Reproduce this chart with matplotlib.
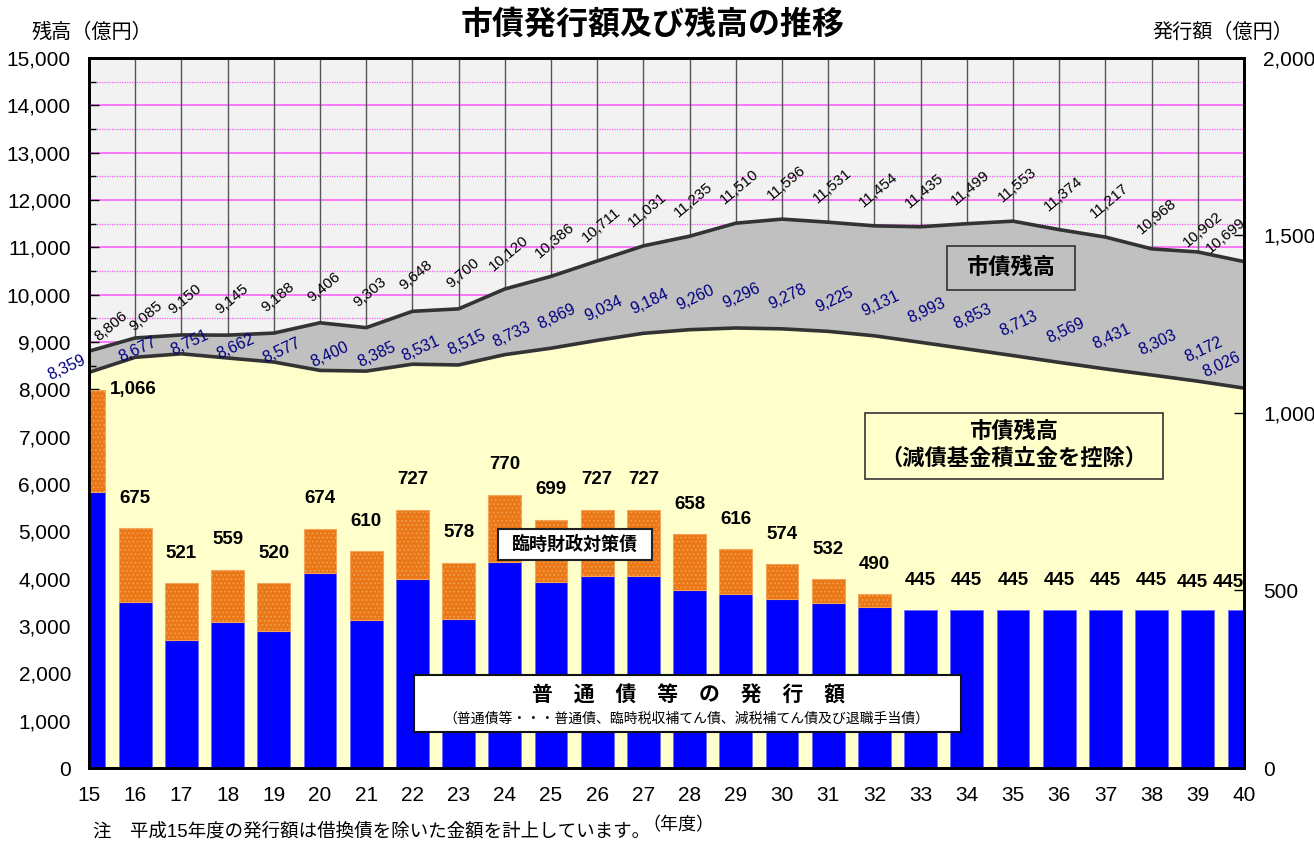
import matplotlib
matplotlib.use('Agg')
import matplotlib.pyplot as plt
import numpy as np
from matplotlib.ticker import MultipleLocator, FuncFormatter
from matplotlib.patches import Rectangle

plt.rcParams['font.family'] = ['Liberation Sans', 'Noto Sans CJK JP', 'DejaVu Sans']
plt.rcParams['hatch.linewidth'] = 0.6

# ---------------- data ----------------
years = list(range(15, 41))
balance_total = [8806, 9085, 9150, 9145, 9188, 9406, 9303, 9648, 9700, 10120,
                 10386, 10711, 11031, 11235, 11510, 11596, 11531, 11454, 11435,
                 11499, 11553, 11374, 11217, 10968, 10902, 10699]
balance_net = [8359, 8677, 8751, 8662, 8577, 8400, 8385, 8531, 8515, 8733,
               8869, 9034, 9184, 9260, 9296, 9278, 9225, 9131, 8993, 8853,
               8713, 8569, 8431, 8303, 8172, 8026]
issue_total = [1066, 675, 521, 559, 520, 674, 610, 727, 578, 770, 699, 727,
               727, 658, 616, 574, 532, 490, 445, 445, 445, 445, 445, 445, 445, 445]
issue_ordinary = [777, 468, 361, 410, 387, 550, 417, 532, 421, 579, 525, 541,
                  541, 502, 489, 477, 466, 454, 445, 445, 445, 445, 445, 445, 445, 445]

# label offsets (pixels) - styling only
total_label_offsets = {15: (22, 25), 16: (11, 22), 38: (5, 32), 39: (5, 23), 40: (-18, 26)}
net_label_offsets = {15: (-22, 5), 16: (2, 8), 17: (8, 11), 18: (8, 11), 19: (8, 11),
                     20: (10, 16), 21: (10, 16), 22: (8, 16), 23: (8, 22), 24: (7, 20),
                     40: (-22, 23)}
bar_label_offsets = {15: (44, 0), 39: (-5, 28), 40: (-16, 28)}

years_a = np.array(years)
ordinary = np.array(issue_ordinary)
rinji = np.array(issue_total) - ordinary

# ---------------- figure ----------------
W, H = 1314, 844
fig = plt.figure(figsize=(W / 100, H / 100), dpi=100)
L, R, T, B = 89, 1244, 58, 768
ax = fig.add_axes([L / W, 1 - B / H, (R - L) / W, (B - T) / H])
ax.set_facecolor('#F2F2F2')
ax.set_xlim(15, 40)
ax.set_ylim(0, 15000)

# grid (only visible above the areas)
for v in range(1000, 15001, 1000):
    ax.axhline(v, color='#FF55FF', lw=1.1, zorder=0.5)
for v in range(500, 15000, 1000):
    ax.axhline(v, color='#FF55FF', lw=0.9, ls=(0, (1, 1)), zorder=0.5)
for x in years:
    ax.axvline(x, color='#555555', lw=1.0, zorder=0.6)

ax.fill_between(years, 0, balance_net, color='#FFFFCC', lw=0, zorder=1)
ax.fill_between(years, balance_net, balance_total, color='#C0C0C0', lw=0, zorder=1)
ax.plot(years, balance_total, color='#333333', lw=2.6, zorder=2)
ax.plot(years, balance_net, color='#333333', lw=2.6, zorder=2)

ax.yaxis.set_major_locator(MultipleLocator(1000))
ax.yaxis.set_minor_locator(MultipleLocator(500))
ax.yaxis.set_major_formatter(FuncFormatter(lambda v, p: f'{int(v):,}'))
ax.xaxis.set_major_locator(MultipleLocator(1))
ax.tick_params(axis='y', which='major', direction='in', length=7, width=1, labelsize=15, pad=13)
ax.tick_params(axis='y', which='minor', direction='in', length=5, width=1)
ax.tick_params(axis='x', which='major', direction='in', length=7, width=1, labelsize=15, pad=13)

for sp in ax.spines.values():
    sp.set_linewidth(2)
    sp.set_color('black')

for x, v in zip(years, balance_total):
    dx, dy = total_label_offsets.get(x, (4, 36))
    ax.annotate(f'{v:,}', (x, v), xytext=(dx, dy), textcoords='offset pixels',
                ha='center', va='center', rotation=40, fontsize=11,
                color='black', zorder=3, annotation_clip=False)
for x, v in zip(years, balance_net):
    dx, dy = net_label_offsets.get(x, (6, 32))
    ax.annotate(f'{v:,}', (x, v), xytext=(dx, dy), textcoords='offset pixels',
                ha='center', va='center', rotation=25, fontsize=11.5,
                color='#000080', zorder=3, annotation_clip=False)

# ---------------- bars on right axis ----------------
ax2 = ax.twinx()
ax2.set_ylim(0, 2000)
ax2.bar(years_a, ordinary, width=0.71, color='#0000FF', edgecolor='#6A6AFF', lw=0.6, zorder=2)
m = rinji > 0
ax2.bar(years_a[m], rinji[m], bottom=ordinary[m], width=0.71, color='#EA7816',
        edgecolor='#F4A458', lw=0.8, hatch='....', zorder=2)
ax2.yaxis.set_major_locator(MultipleLocator(500))
ax2.yaxis.set_major_formatter(FuncFormatter(lambda v, p: f'{int(v):,}'))
ax2.tick_params(axis='y', which='major', direction='in', length=7, width=1, labelsize=15, pad=14)
for sp in ax2.spines.values():
    sp.set_linewidth(2)
    sp.set_color('black')

for x, v in zip(years, issue_total):
    dx, dy = bar_label_offsets.get(x, (0, 30))
    ax2.annotate(f'{v:,}', (x, v), xytext=(dx, dy), textcoords='offset pixels',
                 ha='center', va='center', fontsize=13.5, fontweight='bold',
                 color='black', zorder=4, annotation_clip=False)

# ---------------- boxes ----------------
def px_box(x0, y0, x1, y1, fc, ec='#333333', lw=1.2):
    r = Rectangle(((x0 - L) / (R - L), (B - y1) / (B - T)), (x1 - x0) / (R - L),
                  (y1 - y0) / (B - T), transform=ax2.transAxes, facecolor=fc,
                  edgecolor=ec, lw=lw, zorder=6, clip_on=False)
    ax2.add_patch(r)

def px_text(x, y, s, **kw):
    ax2.text((x - L) / (R - L), (B - y) / (B - T), s, transform=ax2.transAxes,
             ha='center', va='center', zorder=7, **kw)

px_box(947, 246, 1075, 290, '#C0C0C0')
px_text(1011, 268, '市債残高', fontsize=16, fontweight='bold')

px_box(865, 413, 1163, 479, '#FFFFCC')
px_text(1014, 432, '市債残高', fontsize=16, fontweight='bold')
px_text(1014, 459, '（減債基金積立金を控除）', fontsize=16, fontweight='bold')

px_box(498, 529, 652, 560, 'white', ec='#222222', lw=1.5)
px_text(575, 545, '臨時財政対策債', fontsize=13, fontweight='bold')

px_box(414, 675, 961, 732, 'white', ec='#111111', lw=1.5)
px_text(689, 696, '普　通　債　等　の　発　行　額', fontsize=15, fontweight='bold')
px_text(686, 719, '（普通債等・・・普通債、臨時税収補てん債、減税補てん債及び退職手当債）', fontsize=10)

# ---------------- titles / notes ----------------
fig.text(653 / W, 1 - 26 / H, '市債発行額及び残高の推移', ha='center', va='center',
         fontsize=23, fontweight='bold')
fig.text(92 / W, 1 - 32 / H, '残高（億円）', ha='center', va='center', fontsize=14.5)
fig.text(1223 / W, 1 - 32 / H, '発行額（億円）', ha='center', va='center', fontsize=14.5)
fig.text(93 / W, 1 - 832 / H, '注　平成15年度の発行額は借換債を除いた金額を計上しています。',
         ha='left', va='center', fontsize=13.3)
fig.text(678 / W, 1 - 826 / H, '（年度）', ha='center', va='center', fontsize=13)

fig.savefig('out.png', dpi=100)
